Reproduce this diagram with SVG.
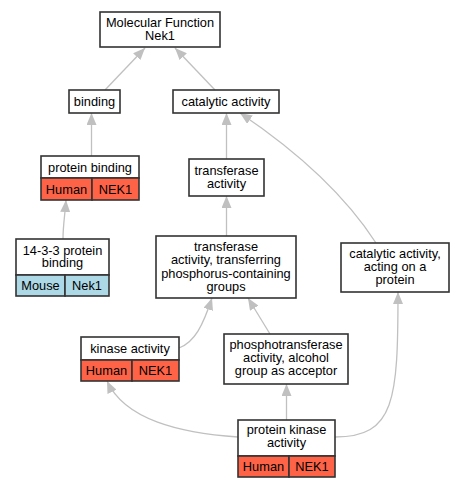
<svg xmlns="http://www.w3.org/2000/svg" width="464" height="488" viewBox="0 0 464 488">
<defs>
<style>
.box{fill:#fff;stroke:#333;stroke-width:1.6}
.hu{fill:#ff6347;stroke:#333;stroke-width:1.6}
.mo{fill:#add8e6;stroke:#333;stroke-width:1.6}
text{font-family:"Liberation Sans",Arial,sans-serif;font-size:12.8px;fill:#000;text-anchor:middle}
.e{fill:none;stroke:#c0c0c0;stroke-width:1.3}
</style>
<marker id="ah" viewBox="0 0 12 10" refX="12" refY="5" markerWidth="12" markerHeight="10" markerUnits="userSpaceOnUse" orient="auto">
<path d="M0,0 L12,5 L0,10 Z" fill="#c0c0c0"/>
</marker>
</defs>
<rect width="464" height="488" fill="#fff"/>
<g id="edges">
<path class="e" marker-end="url(#ah)" d="M105,90 L145,48"/>
<path class="e" marker-end="url(#ah)" d="M215,90 L175,48"/>
<path class="e" marker-end="url(#ah)" d="M91.5,156 L91.5,113"/>
<path class="e" marker-end="url(#ah)" d="M63,239 C63,225 65,215 66,200"/>
<path class="e" marker-end="url(#ah)" d="M226.5,159 L226.5,113"/>
<path class="e" marker-end="url(#ah)" d="M376,243 C345,195 295,150 240,113"/>
<path class="e" marker-end="url(#ah)" d="M226.5,236 L226.5,196"/>
<path class="e" marker-end="url(#ah)" d="M179,348 C195,342 203,325 212,298"/>
<path class="e" marker-end="url(#ah)" d="M270,334 L248,298"/>
<path class="e" marker-end="url(#ah)" d="M286.5,420 L286.5,384"/>
<path class="e" marker-end="url(#ah)" d="M238,437 C180,433 125,420 107,381"/>
<path class="e" marker-end="url(#ah)" d="M335,437 C395,437 398,400 398,292"/>
</g>
<g id="mf">
<rect class="box" x="100" y="12" width="120" height="35"/>
<text x="160" y="27">Molecular Function</text>
<text x="160" y="40">Nek1</text>
</g>
<g id="binding">
<rect class="box" x="69" y="90" width="51" height="23"/>
<text x="94.5" y="106">binding</text>
</g>
<g id="catalytic">
<rect class="box" x="173" y="90" width="106" height="23"/>
<text x="226" y="106">catalytic activity</text>
</g>
<g id="proteinbinding">
<rect class="box" x="41" y="156" width="98" height="22"/>
<text x="90" y="171.5">protein binding</text>
<rect class="hu" x="41" y="178" width="51" height="22"/>
<rect class="hu" x="92" y="178" width="47" height="22"/>
<text x="66.5" y="193.5">Human</text>
<text x="115.5" y="193.5">NEK1</text>
</g>
<g id="p1433">
<rect class="box" x="16" y="239" width="93" height="36"/>
<text x="62.5" y="254.5">14-3-3 protein</text>
<text x="62.5" y="267">binding</text>
<rect class="mo" x="16" y="275" width="49" height="21"/>
<rect class="mo" x="65" y="275" width="44" height="21"/>
<text x="40.5" y="290">Mouse</text>
<text x="87" y="290">Nek1</text>
</g>
<g id="transferase">
<rect class="box" x="189" y="159" width="75" height="37"/>
<text x="226.5" y="175">transferase</text>
<text x="226.5" y="188">activity</text>
</g>
<g id="transferring">
<rect class="box" x="156" y="236" width="140" height="62"/>
<text x="226" y="251">transferase</text>
<text x="226" y="264">activity, transferring</text>
<text x="226" y="277.5">phosphorus-containing</text>
<text x="226" y="291">groups</text>
</g>
<g id="acting">
<rect class="box" x="341" y="243" width="108" height="49"/>
<text x="395" y="258">catalytic activity,</text>
<text x="395" y="271">acting on a</text>
<text x="395" y="284">protein</text>
</g>
<g id="kinase">
<rect class="box" x="81" y="337" width="98" height="23"/>
<text x="130" y="352.5">kinase activity</text>
<rect class="hu" x="81" y="360" width="51" height="21"/>
<rect class="hu" x="132" y="360" width="47" height="21"/>
<text x="106.5" y="375">Human</text>
<text x="155.5" y="375">NEK1</text>
</g>
<g id="phospho">
<rect class="box" x="224" y="334" width="124" height="50"/>
<text x="286" y="349">phosphotransferase</text>
<text x="286" y="362">activity, alcohol</text>
<text x="286" y="375">group as acceptor</text>
</g>
<g id="pka">
<rect class="box" x="238" y="420" width="97" height="36"/>
<text x="286.5" y="434">protein kinase</text>
<text x="286.5" y="447">activity</text>
<rect class="hu" x="238" y="456" width="51" height="21"/>
<rect class="hu" x="289" y="456" width="46" height="21"/>
<text x="263.5" y="470.5">Human</text>
<text x="312" y="470.5">NEK1</text>
</g>
</svg>
